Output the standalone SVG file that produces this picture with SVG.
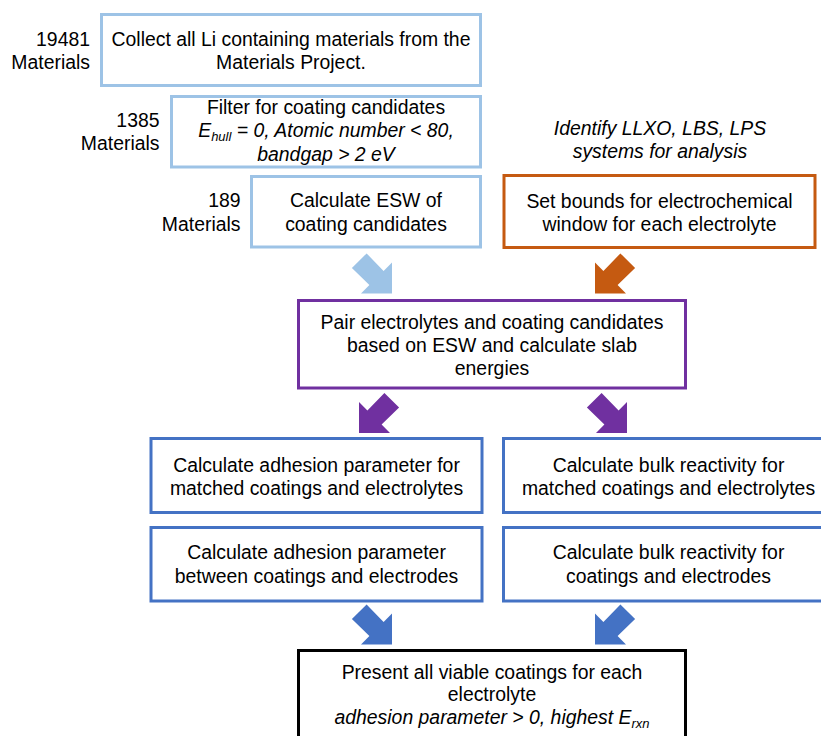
<svg xmlns="http://www.w3.org/2000/svg" xmlns:xlink="http://www.w3.org/1999/xlink" width="821" height="736" viewBox="0 0 821 736">
<style>
text { font-family: "Liberation Sans", Arial, sans-serif; font-size: 19.4px; fill: #000; }
.c { text-anchor: middle; }
.r { text-anchor: end; }
.i { font-style: italic; }
.sub { font-size: 13px; }
rect { fill: #fff; stroke-width: 3; }
.lb { stroke: #9DC3E6; }
.or { stroke: #C55A11; }
.pu { stroke: #7030A0; }
.bl { stroke: #4472C4; }
.bk { stroke: #000; }
</style>
<defs>
<path id="se" d="M-25.4,-40.1 L-8.4,-22.6 L0,-31 L0,0 L-31,0 L-22.6,-8.4 L-40.1,-25.4 Z"/>
</defs>
<rect width="821" height="736" style="fill:#fff;stroke:none"/>
<g id="connectors">
<use xlink:href="#se" transform="translate(392,293.5)" fill="#9DC3E6"/>
<use xlink:href="#se" transform="translate(595,293.5) scale(-1,1)" fill="#C55A11"/>
<use xlink:href="#se" transform="translate(359,433) scale(-1,1)" fill="#7030A0"/>
<use xlink:href="#se" transform="translate(627,433)" fill="#7030A0"/>
<use xlink:href="#se" transform="translate(392,644.5)" fill="#4472C4"/>
<use xlink:href="#se" transform="translate(595,644.5) scale(-1,1)" fill="#4472C4"/>
</g>
<g id="collect">
<rect class="lb" x="101.5" y="14.5" width="379" height="71"/>
<text class="c" x="291" y="45.5">Collect all Li containing materials from the</text>
<text class="c" x="291" y="69">Materials Project.</text>
<text class="r" x="90" y="45.5">19481</text>
<text class="r" x="90" y="69">Materials</text>
</g>
<g id="filter">
<rect class="lb" x="171.5" y="96.5" width="309" height="70.5"/>
<text class="c" x="326" y="113.5">Filter for coating candidates</text>
<text class="c i" x="326" y="137">E<tspan class="sub" dy="4">hull</tspan><tspan dy="-4"> = 0, Atomic number &lt; 80,</tspan></text>
<text class="c i" x="326" y="160.5">bandgap &gt; 2 eV</text>
<text class="r" x="159.5" y="126.5">1385</text>
<text class="r" x="159.5" y="150">Materials</text>
</g>
<g id="esw">
<rect class="lb" x="251.5" y="176.5" width="229" height="70.5"/>
<text class="c" x="366" y="207">Calculate ESW of</text>
<text class="c" x="366" y="230.5">coating candidates</text>
<text class="r" x="240.5" y="207">189</text>
<text class="r" x="240.5" y="230.5">Materials</text>
</g>
<g id="identify">
<text class="c i" x="660" y="135">Identify LLXO, LBS, LPS</text>
<text class="c i" x="660" y="157.5">systems for analysis</text>
</g>
<g id="bounds">
<rect class="or" x="504" y="175.5" width="311" height="72"/>
<text class="c" x="659.5" y="207.5">Set bounds for electrochemical</text>
<text class="c" x="659.5" y="230.5">window for each electrolyte</text>
</g>
<g id="pair">
<rect class="pu" x="298.5" y="300.5" width="387" height="87.5"/>
<text class="c" x="492" y="328.5">Pair electrolytes and coating candidates</text>
<text class="c" x="492" y="352">based on ESW and calculate slab</text>
<text class="c" x="492" y="375">energies</text>
</g>
<g id="adhesion-electrolytes">
<rect class="bl" x="151" y="438.5" width="331" height="74"/>
<text class="c" x="316.5" y="471.5">Calculate adhesion parameter for</text>
<text class="c" x="316.5" y="494.5">matched coatings and electrolytes</text>
</g>
<g id="bulk-electrolytes">
<rect class="bl" x="503.5" y="438.5" width="340" height="74"/>
<text class="c" x="668.5" y="471.5">Calculate bulk reactivity for</text>
<text class="c" x="668.5" y="494.5">matched coatings and electrolytes</text>
</g>
<g id="adhesion-electrodes">
<rect class="bl" x="151" y="527.5" width="331" height="73.5"/>
<text class="c" x="316.5" y="559">Calculate adhesion parameter</text>
<text class="c" x="316.5" y="582.5">between coatings and electrodes</text>
</g>
<g id="bulk-electrodes">
<rect class="bl" x="503.5" y="527.5" width="340" height="73.5"/>
<text class="c" x="668.5" y="559">Calculate bulk reactivity for</text>
<text class="c" x="668.5" y="582.5">coatings and electrodes</text>
</g>
<g id="present">
<rect class="bk" x="298.5" y="650.5" width="387" height="100"/>
<text class="c" x="492" y="678.5">Present all viable coatings for each</text>
<text class="c" x="492" y="700.5">electrolyte</text>
<text class="c i" x="492" y="724">adhesion parameter &gt; 0, highest E<tspan class="sub" dy="4">rxn</tspan></text>
</g>
</svg>
